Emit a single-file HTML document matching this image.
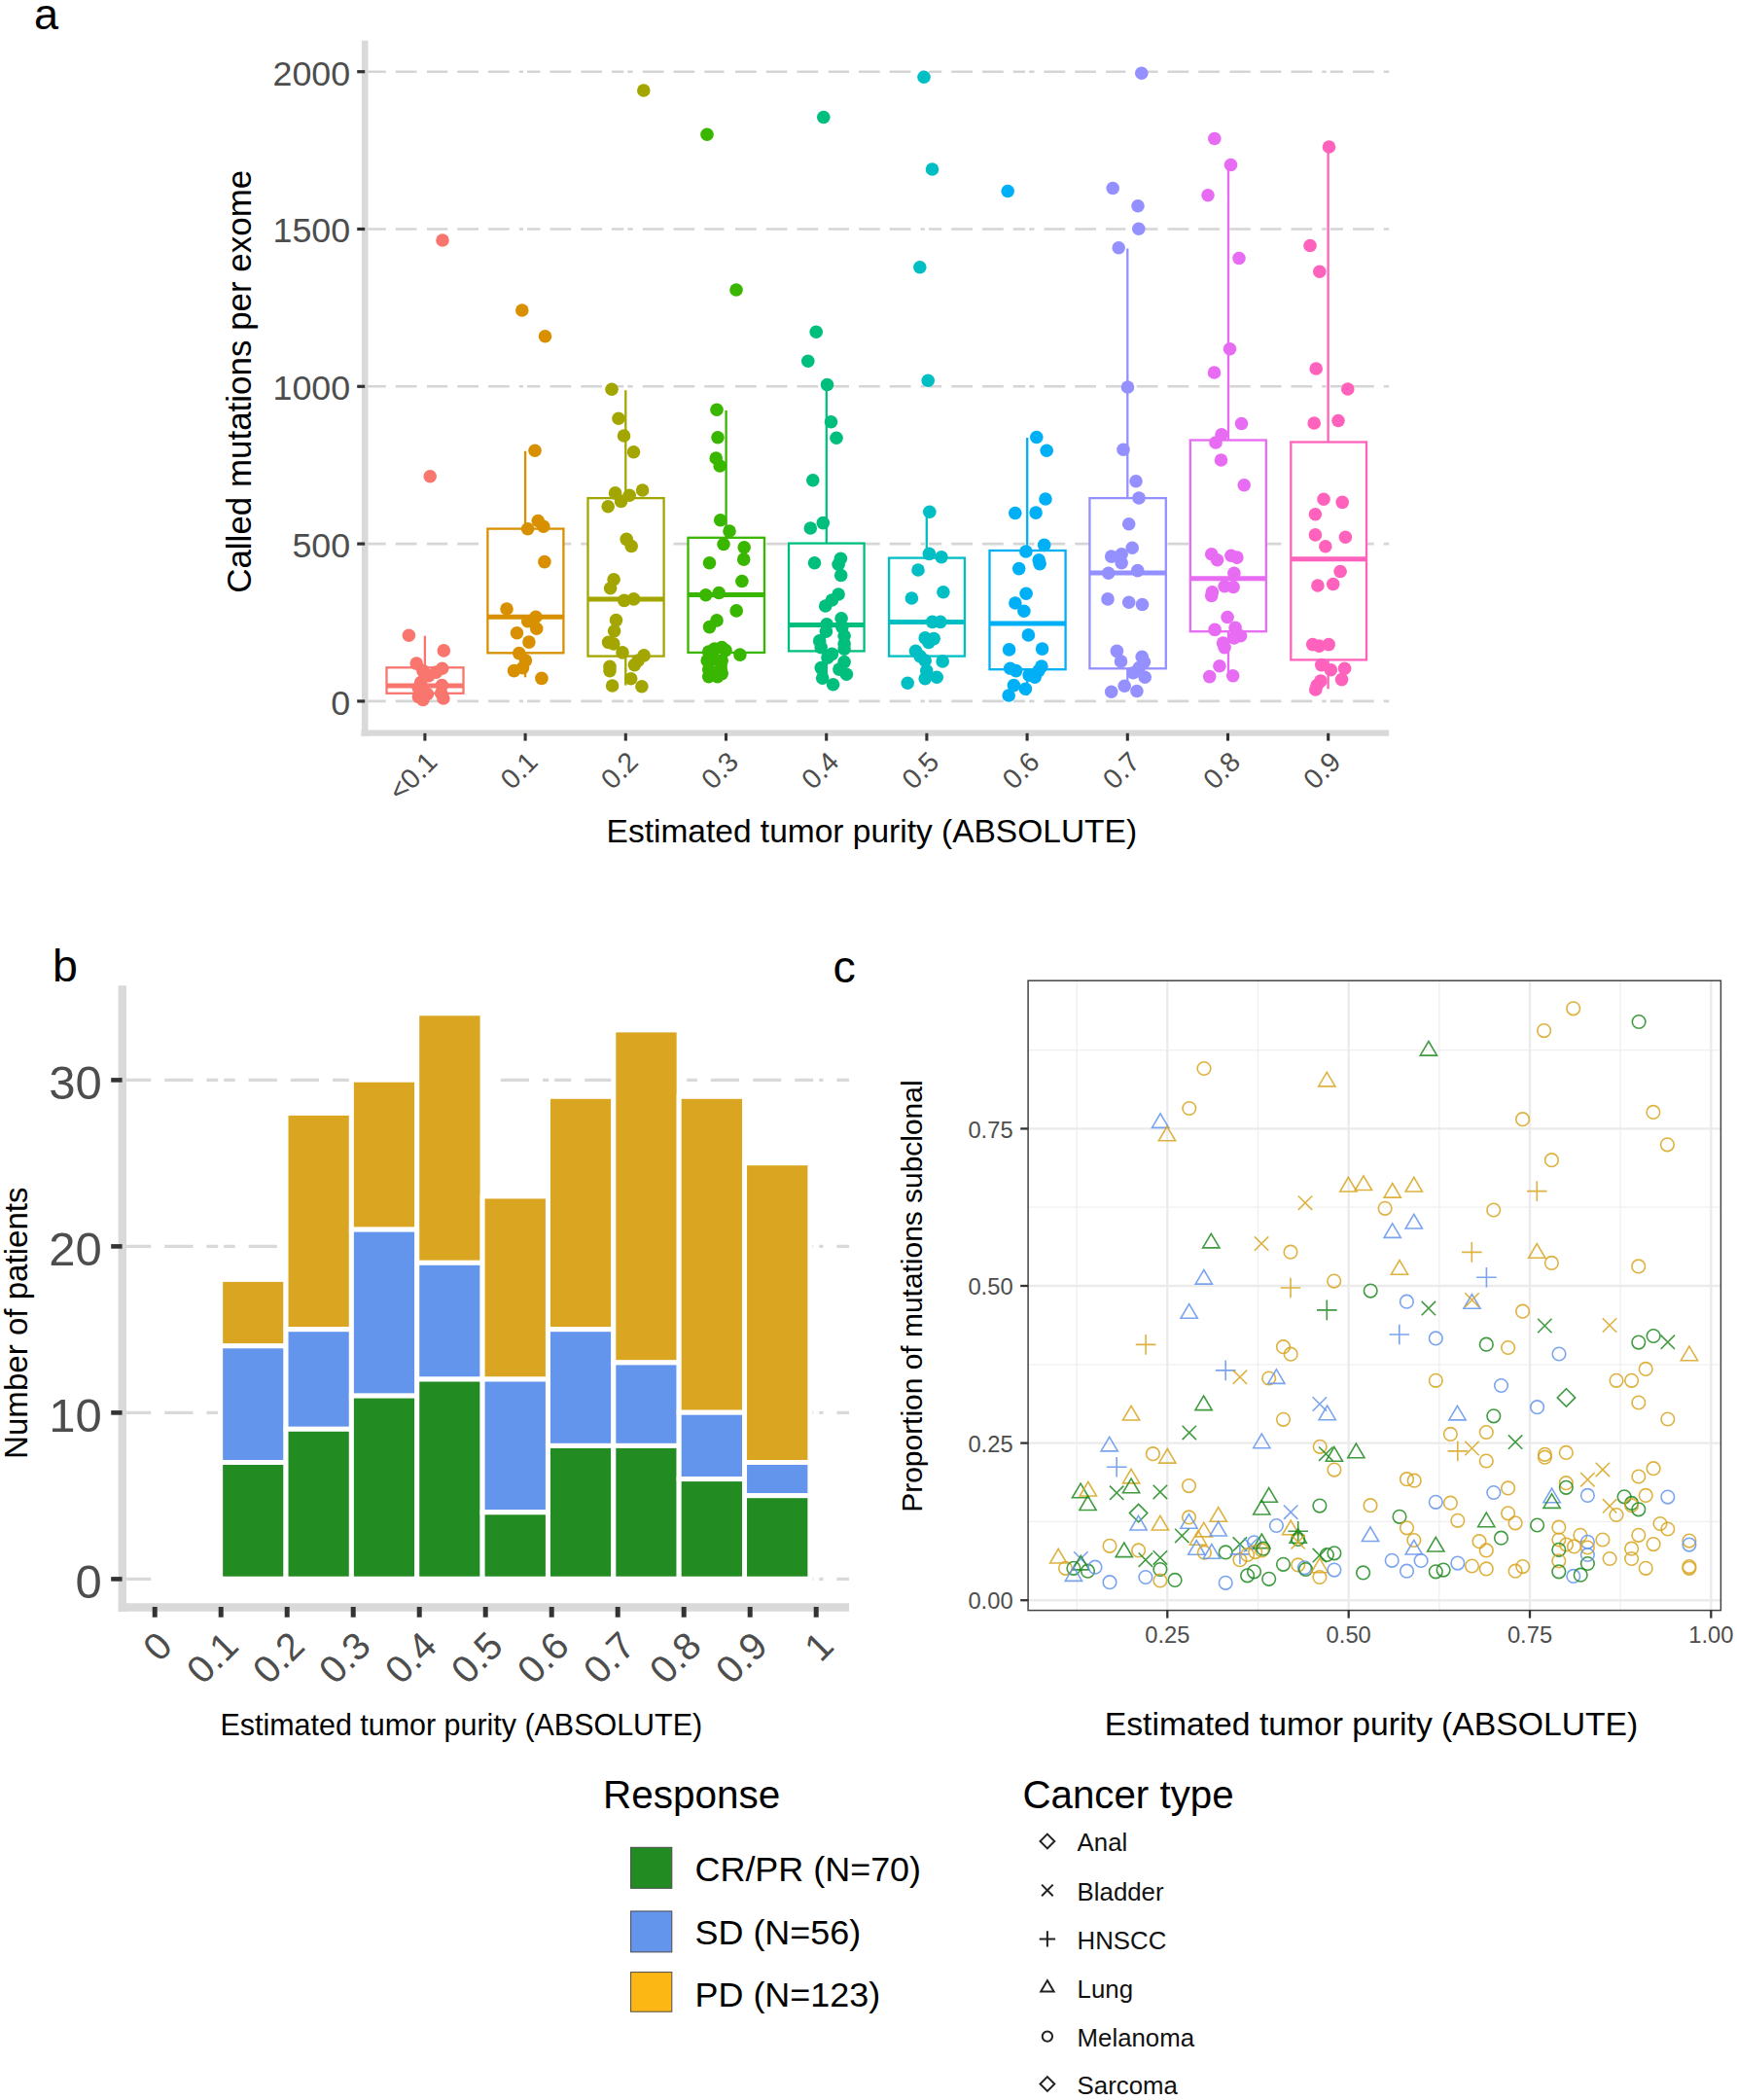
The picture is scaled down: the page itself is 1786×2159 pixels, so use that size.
<!DOCTYPE html>
<html lang="en"><head><meta charset="utf-8"><title>Figure</title>
<style>html,body{margin:0;padding:0;background:#fff}svg{display:block}</style></head>
<body><svg width="1786" height="2159" viewBox="0 0 1786 2159">
<rect width="1786" height="2159" fill="#fff"/>
<g id="panel-a">
<line x1="375.0" y1="720.9" x2="1428.2" y2="720.9" stroke="#d5d5d5" stroke-width="2.6" stroke-dasharray="21.75 10"/>
<line x1="375.0" y1="559.1" x2="1428.2" y2="559.1" stroke="#d5d5d5" stroke-width="2.6" stroke-dasharray="21.75 10"/>
<line x1="375.0" y1="397.3" x2="1428.2" y2="397.3" stroke="#d5d5d5" stroke-width="2.6" stroke-dasharray="21.75 10"/>
<line x1="375.0" y1="235.5" x2="1428.2" y2="235.5" stroke="#d5d5d5" stroke-width="2.6" stroke-dasharray="21.75 10"/>
<line x1="375.0" y1="73.7" x2="1428.2" y2="73.7" stroke="#d5d5d5" stroke-width="2.6" stroke-dasharray="21.75 10"/>
<line x1="436.9" y1="42" x2="436.9" y2="750" stroke="#fff" stroke-width="4"/>
<line x1="540.1" y1="42" x2="540.1" y2="750" stroke="#fff" stroke-width="4"/>
<line x1="643.3" y1="42" x2="643.3" y2="750" stroke="#fff" stroke-width="4"/>
<line x1="746.5" y1="42" x2="746.5" y2="750" stroke="#fff" stroke-width="4"/>
<line x1="849.7" y1="42" x2="849.7" y2="750" stroke="#fff" stroke-width="4"/>
<line x1="952.9" y1="42" x2="952.9" y2="750" stroke="#fff" stroke-width="4"/>
<line x1="1056.1" y1="42" x2="1056.1" y2="750" stroke="#fff" stroke-width="4"/>
<line x1="1159.3" y1="42" x2="1159.3" y2="750" stroke="#fff" stroke-width="4"/>
<line x1="1262.5" y1="42" x2="1262.5" y2="750" stroke="#fff" stroke-width="4"/>
<line x1="1365.7" y1="42" x2="1365.7" y2="750" stroke="#fff" stroke-width="4"/>
<line x1="375.2" y1="41.7" x2="375.2" y2="756.8" stroke="#d9d9d9" stroke-width="6.6"/>
<line x1="371.4" y1="753.7" x2="1428.2" y2="753.7" stroke="#d9d9d9" stroke-width="6.2"/>
<line x1="367.2" y1="720.9" x2="375.2" y2="720.9" stroke="#333" stroke-width="3.2"/>
<line x1="367.2" y1="559.1" x2="375.2" y2="559.1" stroke="#333" stroke-width="3.2"/>
<line x1="367.2" y1="397.3" x2="375.2" y2="397.3" stroke="#333" stroke-width="3.2"/>
<line x1="367.2" y1="235.5" x2="375.2" y2="235.5" stroke="#333" stroke-width="3.2"/>
<line x1="367.2" y1="73.7" x2="375.2" y2="73.7" stroke="#333" stroke-width="3.2"/>
<line x1="436.9" y1="753.8" x2="436.9" y2="761.6" stroke="#333" stroke-width="3.1"/>
<line x1="540.1" y1="753.8" x2="540.1" y2="761.6" stroke="#333" stroke-width="3.1"/>
<line x1="643.3" y1="753.8" x2="643.3" y2="761.6" stroke="#333" stroke-width="3.1"/>
<line x1="746.5" y1="753.8" x2="746.5" y2="761.6" stroke="#333" stroke-width="3.1"/>
<line x1="849.7" y1="753.8" x2="849.7" y2="761.6" stroke="#333" stroke-width="3.1"/>
<line x1="952.9" y1="753.8" x2="952.9" y2="761.6" stroke="#333" stroke-width="3.1"/>
<line x1="1056.1" y1="753.8" x2="1056.1" y2="761.6" stroke="#333" stroke-width="3.1"/>
<line x1="1159.3" y1="753.8" x2="1159.3" y2="761.6" stroke="#333" stroke-width="3.1"/>
<line x1="1262.5" y1="753.8" x2="1262.5" y2="761.6" stroke="#333" stroke-width="3.1"/>
<line x1="1365.7" y1="753.8" x2="1365.7" y2="761.6" stroke="#333" stroke-width="3.1"/>
<g stroke="#F8766D" fill="none">
<line x1="436.9" y1="653.7" x2="436.9" y2="686.3" stroke-width="2.3"/>
<line x1="436.9" y1="712.8" x2="436.9" y2="718.0" stroke-width="2.3"/>
<rect x="397.5" y="686.3" width="79.0" height="26.5" fill="#fff" stroke-width="2.3"/>
<line x1="397.5" y1="705.0" x2="476.5" y2="705.0" stroke-width="5"/>
</g>
<g stroke="#D89000" fill="none">
<line x1="540.1" y1="463.75" x2="540.1" y2="543.6" stroke-width="2.3"/>
<line x1="540.1" y1="671.3" x2="540.1" y2="696.3" stroke-width="2.3"/>
<rect x="501.4" y="543.6" width="78.0" height="127.7" fill="#fff" stroke-width="2.3"/>
<line x1="501.4" y1="634.2" x2="579.4" y2="634.2" stroke-width="5"/>
</g>
<g stroke="#A3A500" fill="none">
<line x1="643.3" y1="401.25" x2="643.3" y2="512.1" stroke-width="2.3"/>
<line x1="643.3" y1="674.6" x2="643.3" y2="704.6" stroke-width="2.3"/>
<rect x="604.5" y="512.1" width="78.1" height="162.5" fill="#fff" stroke-width="2.3"/>
<line x1="604.5" y1="616.0" x2="682.6" y2="616.0" stroke-width="5"/>
</g>
<g stroke="#39B600" fill="none">
<line x1="746.6" y1="422.0" x2="746.6" y2="552.8" stroke-width="2.3"/>
<line x1="746.6" y1="670.9" x2="746.6" y2="695.6" stroke-width="2.3"/>
<rect x="707.5" y="552.8" width="78.5" height="118.1" fill="#fff" stroke-width="2.3"/>
<line x1="707.5" y1="611.4" x2="786.0" y2="611.4" stroke-width="5"/>
</g>
<g stroke="#00BF7D" fill="none">
<line x1="849.8" y1="395.5" x2="849.8" y2="558.6" stroke-width="2.3"/>
<line x1="849.8" y1="669.4" x2="849.8" y2="701.6" stroke-width="2.3"/>
<rect x="811.0" y="558.6" width="77.6" height="110.8" fill="#fff" stroke-width="2.3"/>
<line x1="811.0" y1="642.4" x2="888.6" y2="642.4" stroke-width="5"/>
</g>
<g stroke="#00BFC4" fill="none">
<line x1="952.8" y1="526.0" x2="952.8" y2="573.6" stroke-width="2.3"/>
<line x1="952.8" y1="674.6" x2="952.8" y2="697.8" stroke-width="2.3"/>
<rect x="914.1" y="573.6" width="77.8" height="101.0" fill="#fff" stroke-width="2.3"/>
<line x1="914.1" y1="639.4" x2="991.9" y2="639.4" stroke-width="5"/>
</g>
<g stroke="#00B0F6" fill="none">
<line x1="1056.2" y1="450.0" x2="1056.2" y2="566.0" stroke-width="2.3"/>
<line x1="1056.2" y1="688.2" x2="1056.2" y2="715.0" stroke-width="2.3"/>
<rect x="1017.5" y="566.0" width="78.1" height="122.2" fill="#fff" stroke-width="2.3"/>
<line x1="1017.5" y1="640.9" x2="1095.6" y2="640.9" stroke-width="5"/>
</g>
<g stroke="#9590FF" fill="none">
<line x1="1159.3" y1="255.5" x2="1159.3" y2="512.1" stroke-width="2.3"/>
<line x1="1159.3" y1="687.3" x2="1159.3" y2="711.0" stroke-width="2.3"/>
<rect x="1120.4" y="512.1" width="78.4" height="175.2" fill="#fff" stroke-width="2.3"/>
<line x1="1120.4" y1="589.0" x2="1198.8" y2="589.0" stroke-width="5"/>
</g>
<g stroke="#E76BF3" fill="none">
<line x1="1263.0" y1="170.0" x2="1263.0" y2="452.5" stroke-width="2.3"/>
<line x1="1263.0" y1="649.2" x2="1263.0" y2="695.6" stroke-width="2.3"/>
<rect x="1223.8" y="452.5" width="78.0" height="196.7" fill="#fff" stroke-width="2.3"/>
<line x1="1223.8" y1="594.7" x2="1301.8" y2="594.7" stroke-width="5"/>
</g>
<g stroke="#FF62BC" fill="none">
<line x1="1365.6" y1="151.0" x2="1365.6" y2="454.5" stroke-width="2.3"/>
<line x1="1365.6" y1="678.4" x2="1365.6" y2="708.3" stroke-width="2.3"/>
<rect x="1327.3" y="454.5" width="77.7" height="223.9" fill="#fff" stroke-width="2.3"/>
<line x1="1327.3" y1="574.8" x2="1405.0" y2="574.8" stroke-width="5"/>
</g>
<g fill="#F8766D"><circle cx="455.0" cy="247.0" r="6.8"/><circle cx="442.2" cy="489.7" r="6.8"/><circle cx="420.4" cy="653.2" r="6.8"/><circle cx="456.3" cy="668.9" r="6.8"/><circle cx="428.2" cy="682.1" r="6.8"/><circle cx="454.7" cy="687.3" r="6.8"/><circle cx="448.4" cy="691.1" r="6.8"/><circle cx="440.9" cy="694.8" r="6.8"/><circle cx="434.9" cy="689.6" r="6.8"/><circle cx="432.7" cy="701.6" r="6.8"/><circle cx="430.4" cy="707.5" r="6.8"/><circle cx="434.9" cy="712.0" r="6.8"/><circle cx="454.4" cy="704.6" r="6.8"/><circle cx="453.6" cy="712.8" r="6.8"/><circle cx="455.9" cy="718.0" r="6.8"/><circle cx="430.4" cy="716.5" r="6.8"/><circle cx="434.9" cy="719.5" r="6.8"/><circle cx="439.4" cy="713.5" r="6.8"/></g>
<g fill="#D89000"><circle cx="536.8" cy="319.0" r="6.8"/><circle cx="560.5" cy="345.8" r="6.8"/><circle cx="550.0" cy="463.2" r="6.8"/><circle cx="553.2" cy="535.5" r="6.8"/><circle cx="558.8" cy="541.2" r="6.8"/><circle cx="542.6" cy="543.7" r="6.8"/><circle cx="559.9" cy="577.6" r="6.8"/><circle cx="521.0" cy="626.0" r="6.8"/><circle cx="550.9" cy="634.2" r="6.8"/><circle cx="542.7" cy="638.7" r="6.8"/><circle cx="551.7" cy="646.2" r="6.8"/><circle cx="531.5" cy="650.7" r="6.8"/><circle cx="543.9" cy="660.1" r="6.8"/><circle cx="533.7" cy="671.6" r="6.8"/><circle cx="540.4" cy="679.1" r="6.8"/><circle cx="537.5" cy="686.6" r="6.8"/><circle cx="528.5" cy="689.6" r="6.8"/><circle cx="556.9" cy="697.4" r="6.8"/></g>
<g fill="#A3A500"><circle cx="661.8" cy="93.0" r="6.8"/><circle cx="629.0" cy="400.2" r="6.8"/><circle cx="636.0" cy="430.2" r="6.8"/><circle cx="641.5" cy="448.0" r="6.8"/><circle cx="651.5" cy="464.8" r="6.8"/><circle cx="632.6" cy="506.9" r="6.8"/><circle cx="660.6" cy="504.0" r="6.8"/><circle cx="647.2" cy="509.2" r="6.8"/><circle cx="638.6" cy="515.4" r="6.8"/><circle cx="625.2" cy="520.7" r="6.8"/><circle cx="644.2" cy="554.4" r="6.8"/><circle cx="649.2" cy="561.5" r="6.8"/><circle cx="631.1" cy="595.7" r="6.8"/><circle cx="627.6" cy="604.7" r="6.8"/><circle cx="651.6" cy="615.9" r="6.8"/><circle cx="641.8" cy="617.4" r="6.8"/><circle cx="633.5" cy="637.6" r="6.8"/><circle cx="631.6" cy="648.8" r="6.8"/><circle cx="625.6" cy="660.4" r="6.8"/><circle cx="630.8" cy="661.9" r="6.8"/><circle cx="640.0" cy="670.9" r="6.8"/><circle cx="662.1" cy="673.9" r="6.8"/><circle cx="656.1" cy="679.1" r="6.8"/><circle cx="652.4" cy="683.6" r="6.8"/><circle cx="627.0" cy="685.4" r="6.8"/><circle cx="627.0" cy="689.6" r="6.8"/><circle cx="648.7" cy="697.8" r="6.8"/><circle cx="629.6" cy="705.0" r="6.8"/><circle cx="659.9" cy="705.7" r="6.8"/></g>
<g fill="#39B600"><circle cx="727.0" cy="138.2" r="6.8"/><circle cx="757.0" cy="298.0" r="6.8"/><circle cx="737.0" cy="421.2" r="6.8"/><circle cx="738.0" cy="449.8" r="6.8"/><circle cx="736.2" cy="471.0" r="6.8"/><circle cx="740.2" cy="479.0" r="6.8"/><circle cx="740.7" cy="534.8" r="6.8"/><circle cx="750.0" cy="546.0" r="6.8"/><circle cx="744.0" cy="559.5" r="6.8"/><circle cx="765.2" cy="562.8" r="6.8"/><circle cx="764.7" cy="575.1" r="6.8"/><circle cx="729.5" cy="578.8" r="6.8"/><circle cx="762.9" cy="597.5" r="6.8"/><circle cx="739.2" cy="609.5" r="6.8"/><circle cx="725.7" cy="611.7" r="6.8"/><circle cx="757.2" cy="627.9" r="6.8"/><circle cx="737.0" cy="637.9" r="6.8"/><circle cx="729.5" cy="644.6" r="6.8"/><circle cx="760.9" cy="673.1" r="6.8"/><circle cx="728.7" cy="670.1" r="6.8"/><circle cx="734.7" cy="667.1" r="6.8"/><circle cx="742.2" cy="665.6" r="6.8"/><circle cx="746.0" cy="668.6" r="6.8"/><circle cx="727.2" cy="679.1" r="6.8"/><circle cx="734.7" cy="677.6" r="6.8"/><circle cx="742.2" cy="679.1" r="6.8"/><circle cx="728.7" cy="688.1" r="6.8"/><circle cx="740.7" cy="688.1" r="6.8"/><circle cx="728.7" cy="695.6" r="6.8"/><circle cx="737.7" cy="695.6" r="6.8"/><circle cx="742.2" cy="692.6" r="6.8"/></g>
<g fill="#00BF7D"><circle cx="846.8" cy="120.5" r="6.8"/><circle cx="839.2" cy="341.2" r="6.8"/><circle cx="830.8" cy="371.2" r="6.8"/><circle cx="850.5" cy="395.5" r="6.8"/><circle cx="854.5" cy="433.8" r="6.8"/><circle cx="860.0" cy="450.2" r="6.8"/><circle cx="835.8" cy="493.7" r="6.8"/><circle cx="846.3" cy="537.6" r="6.8"/><circle cx="833.3" cy="543.0" r="6.8"/><circle cx="837.5" cy="578.8" r="6.8"/><circle cx="864.4" cy="574.3" r="6.8"/><circle cx="862.1" cy="580.3" r="6.8"/><circle cx="864.7" cy="591.5" r="6.8"/><circle cx="862.1" cy="611.0" r="6.8"/><circle cx="855.4" cy="617.0" r="6.8"/><circle cx="848.7" cy="623.0" r="6.8"/><circle cx="865.1" cy="635.7" r="6.8"/><circle cx="850.1" cy="641.7" r="6.8"/><circle cx="865.9" cy="644.7" r="6.8"/><circle cx="849.4" cy="649.2" r="6.8"/><circle cx="868.1" cy="653.7" r="6.8"/><circle cx="842.7" cy="658.9" r="6.8"/><circle cx="868.1" cy="661.9" r="6.8"/><circle cx="844.2" cy="665.6" r="6.8"/><circle cx="868.1" cy="667.1" r="6.8"/><circle cx="855.4" cy="672.4" r="6.8"/><circle cx="850.9" cy="676.1" r="6.8"/><circle cx="868.1" cy="680.6" r="6.8"/><circle cx="844.2" cy="686.6" r="6.8"/><circle cx="862.9" cy="688.1" r="6.8"/><circle cx="870.4" cy="693.3" r="6.8"/><circle cx="845.7" cy="697.1" r="6.8"/><circle cx="856.6" cy="703.8" r="6.8"/></g>
<g fill="#00BFC4"><circle cx="950.0" cy="79.2" r="6.8"/><circle cx="958.5" cy="174.0" r="6.8"/><circle cx="945.8" cy="274.8" r="6.8"/><circle cx="954.2" cy="391.2" r="6.8"/><circle cx="955.8" cy="526.2" r="6.8"/><circle cx="955.4" cy="569.4" r="6.8"/><circle cx="968.0" cy="572.8" r="6.8"/><circle cx="944.0" cy="586.0" r="6.8"/><circle cx="969.9" cy="608.7" r="6.8"/><circle cx="937.4" cy="615.0" r="6.8"/><circle cx="958.7" cy="639.4" r="6.8"/><circle cx="966.9" cy="639.4" r="6.8"/><circle cx="951.2" cy="655.9" r="6.8"/><circle cx="960.2" cy="656.6" r="6.8"/><circle cx="954.9" cy="660.4" r="6.8"/><circle cx="941.5" cy="669.4" r="6.8"/><circle cx="946.0" cy="674.6" r="6.8"/><circle cx="951.2" cy="679.1" r="6.8"/><circle cx="969.2" cy="679.9" r="6.8"/><circle cx="952.7" cy="689.6" r="6.8"/><circle cx="963.2" cy="696.3" r="6.8"/><circle cx="951.2" cy="697.8" r="6.8"/><circle cx="933.2" cy="702.3" r="6.8"/></g>
<g fill="#00B0F6"><circle cx="1036.2" cy="196.5" r="6.8"/><circle cx="1065.8" cy="449.5" r="6.8"/><circle cx="1076.2" cy="463.2" r="6.8"/><circle cx="1075.0" cy="513.0" r="6.8"/><circle cx="1043.8" cy="527.5" r="6.8"/><circle cx="1065.1" cy="527.1" r="6.8"/><circle cx="1073.7" cy="560.4" r="6.8"/><circle cx="1054.9" cy="567.0" r="6.8"/><circle cx="1068.2" cy="575.8" r="6.8"/><circle cx="1069.1" cy="579.6" r="6.8"/><circle cx="1047.7" cy="584.6" r="6.8"/><circle cx="1055.1" cy="610.2" r="6.8"/><circle cx="1043.9" cy="620.0" r="6.8"/><circle cx="1052.9" cy="628.2" r="6.8"/><circle cx="1057.4" cy="652.9" r="6.8"/><circle cx="1037.6" cy="667.9" r="6.8"/><circle cx="1071.6" cy="667.1" r="6.8"/><circle cx="1038.7" cy="687.3" r="6.8"/><circle cx="1044.7" cy="689.6" r="6.8"/><circle cx="1070.9" cy="685.1" r="6.8"/><circle cx="1067.9" cy="689.6" r="6.8"/><circle cx="1058.1" cy="694.1" r="6.8"/><circle cx="1064.1" cy="696.3" r="6.8"/><circle cx="1042.4" cy="704.6" r="6.8"/><circle cx="1054.4" cy="708.3" r="6.8"/><circle cx="1037.2" cy="715.0" r="6.8"/></g>
<g fill="#9590FF"><circle cx="1173.8" cy="75.2" r="6.8"/><circle cx="1144.2" cy="193.5" r="6.8"/><circle cx="1170.0" cy="211.8" r="6.8"/><circle cx="1170.8" cy="235.2" r="6.8"/><circle cx="1150.2" cy="254.8" r="6.8"/><circle cx="1159.5" cy="398.0" r="6.8"/><circle cx="1155.0" cy="462.2" r="6.8"/><circle cx="1168.0" cy="494.8" r="6.8"/><circle cx="1171.0" cy="512.0" r="6.8"/><circle cx="1160.7" cy="538.7" r="6.8"/><circle cx="1164.2" cy="563.2" r="6.8"/><circle cx="1142.7" cy="572.1" r="6.8"/><circle cx="1153.2" cy="569.8" r="6.8"/><circle cx="1153.2" cy="578.8" r="6.8"/><circle cx="1139.7" cy="589.3" r="6.8"/><circle cx="1169.7" cy="586.6" r="6.8"/><circle cx="1139.0" cy="615.9" r="6.8"/><circle cx="1160.7" cy="619.2" r="6.8"/><circle cx="1174.5" cy="621.5" r="6.8"/><circle cx="1148.4" cy="669.4" r="6.8"/><circle cx="1152.5" cy="679.9" r="6.8"/><circle cx="1174.2" cy="675.4" r="6.8"/><circle cx="1176.4" cy="680.6" r="6.8"/><circle cx="1171.2" cy="686.6" r="6.8"/><circle cx="1165.2" cy="691.8" r="6.8"/><circle cx="1177.2" cy="696.3" r="6.8"/><circle cx="1156.2" cy="705.3" r="6.8"/><circle cx="1168.9" cy="710.5" r="6.8"/><circle cx="1142.7" cy="711.3" r="6.8"/></g>
<g fill="#E76BF3"><circle cx="1248.8" cy="142.5" r="6.8"/><circle cx="1265.5" cy="169.5" r="6.8"/><circle cx="1242.0" cy="200.8" r="6.8"/><circle cx="1274.0" cy="265.5" r="6.8"/><circle cx="1264.5" cy="358.8" r="6.8"/><circle cx="1248.5" cy="383.0" r="6.8"/><circle cx="1276.5" cy="435.5" r="6.8"/><circle cx="1256.0" cy="446.8" r="6.8"/><circle cx="1250.0" cy="455.0" r="6.8"/><circle cx="1255.5" cy="473.0" r="6.8"/><circle cx="1279.2" cy="498.7" r="6.8"/><circle cx="1245.7" cy="569.8" r="6.8"/><circle cx="1251.6" cy="575.8" r="6.8"/><circle cx="1265.9" cy="571.3" r="6.8"/><circle cx="1271.9" cy="573.1" r="6.8"/><circle cx="1268.9" cy="589.3" r="6.8"/><circle cx="1259.1" cy="602.8" r="6.8"/><circle cx="1268.1" cy="603.5" r="6.8"/><circle cx="1246.4" cy="608.7" r="6.8"/><circle cx="1245.7" cy="612.5" r="6.8"/><circle cx="1262.1" cy="634.5" r="6.8"/><circle cx="1270.1" cy="645.4" r="6.8"/><circle cx="1249.1" cy="647.4" r="6.8"/><circle cx="1275.6" cy="653.7" r="6.8"/><circle cx="1268.9" cy="655.9" r="6.8"/><circle cx="1257.6" cy="661.1" r="6.8"/><circle cx="1259.1" cy="665.6" r="6.8"/><circle cx="1253.9" cy="684.8" r="6.8"/><circle cx="1243.7" cy="695.6" r="6.8"/><circle cx="1267.7" cy="694.8" r="6.8"/></g>
<g fill="#FF62BC"><circle cx="1366.5" cy="151.0" r="6.8"/><circle cx="1347.0" cy="252.5" r="6.8"/><circle cx="1356.8" cy="279.2" r="6.8"/><circle cx="1353.2" cy="379.0" r="6.8"/><circle cx="1385.8" cy="400.0" r="6.8"/><circle cx="1351.2" cy="435.0" r="6.8"/><circle cx="1376.0" cy="432.5" r="6.8"/><circle cx="1361.0" cy="513.2" r="6.8"/><circle cx="1380.2" cy="516.4" r="6.8"/><circle cx="1352.4" cy="528.7" r="6.8"/><circle cx="1352.4" cy="549.9" r="6.8"/><circle cx="1383.4" cy="552.2" r="6.8"/><circle cx="1362.8" cy="561.7" r="6.8"/><circle cx="1378.1" cy="587.5" r="6.8"/><circle cx="1370.7" cy="600.5" r="6.8"/><circle cx="1354.9" cy="602.0" r="6.8"/><circle cx="1349.7" cy="662.6" r="6.8"/><circle cx="1356.4" cy="664.1" r="6.8"/><circle cx="1366.2" cy="662.6" r="6.8"/><circle cx="1358.7" cy="683.6" r="6.8"/><circle cx="1368.4" cy="688.8" r="6.8"/><circle cx="1382.6" cy="687.3" r="6.8"/><circle cx="1379.6" cy="698.6" r="6.8"/><circle cx="1357.9" cy="700.1" r="6.8"/><circle cx="1354.2" cy="704.6" r="6.8"/><circle cx="1352.7" cy="709.0" r="6.8"/></g>
<g font-family="Liberation Sans, Arial, Helvetica, sans-serif" font-size="35.8" fill="#4d4d4d" text-anchor="end">
<text x="360.2" y="734.8">0</text>
<text x="360.2" y="573.0">500</text>
<text x="360.2" y="411.2">1000</text>
<text x="360.2" y="249.4">1500</text>
<text x="360.2" y="87.6">2000</text>
</g>
<g font-family="Liberation Sans, Arial, Helvetica, sans-serif" font-size="28.5" fill="#4d4d4d" text-anchor="end">
<text transform="translate(436.9,770.6) rotate(-45)" x="0" y="20.4">&lt;0.1</text>
<text transform="translate(540.1,770.6) rotate(-45)" x="0" y="20.4">0.1</text>
<text transform="translate(643.3,770.6) rotate(-45)" x="0" y="20.4">0.2</text>
<text transform="translate(746.5,770.6) rotate(-45)" x="0" y="20.4">0.3</text>
<text transform="translate(849.7,770.6) rotate(-45)" x="0" y="20.4">0.4</text>
<text transform="translate(952.9,770.6) rotate(-45)" x="0" y="20.4">0.5</text>
<text transform="translate(1056.1,770.6) rotate(-45)" x="0" y="20.4">0.6</text>
<text transform="translate(1159.3,770.6) rotate(-45)" x="0" y="20.4">0.7</text>
<text transform="translate(1262.5,770.6) rotate(-45)" x="0" y="20.4">0.8</text>
<text transform="translate(1365.7,770.6) rotate(-45)" x="0" y="20.4">0.9</text>
</g>
<text font-family="Liberation Sans, Arial, Helvetica, sans-serif" font-size="34.95" fill="#000" text-anchor="middle" transform="translate(258.3,392.3) rotate(-90)">Called mutations per exome</text>
<text font-family="Liberation Sans, Arial, Helvetica, sans-serif" font-size="33.5" fill="#000" x="623.6" y="866">Estimated tumor purity (ABSOLUTE)</text>
</g>
<g id="panel-b">
<line x1="126" y1="1623.4" x2="873" y2="1623.4" stroke="#d9d9d9" stroke-width="3.3" stroke-dasharray="29.3 13.9"/>
<line x1="126" y1="1452.4" x2="873" y2="1452.4" stroke="#d9d9d9" stroke-width="3.3" stroke-dasharray="29.3 13.9"/>
<line x1="126" y1="1281.4" x2="873" y2="1281.4" stroke="#d9d9d9" stroke-width="3.3" stroke-dasharray="29.3 13.9"/>
<line x1="126" y1="1110.4" x2="873" y2="1110.4" stroke="#d9d9d9" stroke-width="3.3" stroke-dasharray="29.3 13.9"/>
<line x1="159.2" y1="1014" x2="159.2" y2="1646" stroke="#fff" stroke-width="6"/>
<line x1="227.2" y1="1014" x2="227.2" y2="1646" stroke="#fff" stroke-width="6"/>
<line x1="295.2" y1="1014" x2="295.2" y2="1646" stroke="#fff" stroke-width="6"/>
<line x1="363.2" y1="1014" x2="363.2" y2="1646" stroke="#fff" stroke-width="6"/>
<line x1="431.2" y1="1014" x2="431.2" y2="1646" stroke="#fff" stroke-width="6"/>
<line x1="499.2" y1="1014" x2="499.2" y2="1646" stroke="#fff" stroke-width="6"/>
<line x1="567.2" y1="1014" x2="567.2" y2="1646" stroke="#fff" stroke-width="6"/>
<line x1="635.2" y1="1014" x2="635.2" y2="1646" stroke="#fff" stroke-width="6"/>
<line x1="703.2" y1="1014" x2="703.2" y2="1646" stroke="#fff" stroke-width="6"/>
<line x1="771.2" y1="1014" x2="771.2" y2="1646" stroke="#fff" stroke-width="6"/>
<line x1="839.2" y1="1014" x2="839.2" y2="1646" stroke="#fff" stroke-width="6"/>
<line x1="156.8" y1="1623.2" x2="229" y2="1623.2" stroke="#fff" stroke-width="5.2"/>
<g stroke="#fff" stroke-width="5" stroke-linejoin="miter">
<rect x="226.65" y="1315.4" width="67.36" height="68.4" fill="#DAA520"/>
<rect x="226.65" y="1383.8" width="67.36" height="119.7" fill="#6495ED"/>
<rect x="226.65" y="1503.5" width="67.36" height="119.7" fill="#228B22"/>
<rect x="294.01" y="1144.4" width="67.36" height="222.3" fill="#DAA520"/>
<rect x="294.01" y="1366.7" width="67.36" height="102.6" fill="#6495ED"/>
<rect x="294.01" y="1469.3" width="67.36" height="153.9" fill="#228B22"/>
<rect x="361.37" y="1110.2" width="67.36" height="153.9" fill="#DAA520"/>
<rect x="361.37" y="1264.1" width="67.36" height="171.0" fill="#6495ED"/>
<rect x="361.37" y="1435.1" width="67.36" height="188.1" fill="#228B22"/>
<rect x="428.73" y="1041.8" width="67.36" height="256.5" fill="#DAA520"/>
<rect x="428.73" y="1298.3" width="67.36" height="119.7" fill="#6495ED"/>
<rect x="428.73" y="1418.0" width="67.36" height="205.2" fill="#228B22"/>
<rect x="496.09" y="1229.9" width="67.36" height="188.1" fill="#DAA520"/>
<rect x="496.09" y="1418.0" width="67.36" height="136.8" fill="#6495ED"/>
<rect x="496.09" y="1554.8" width="67.36" height="68.4" fill="#228B22"/>
<rect x="563.45" y="1127.3" width="67.36" height="239.4" fill="#DAA520"/>
<rect x="563.45" y="1366.7" width="67.36" height="119.7" fill="#6495ED"/>
<rect x="563.45" y="1486.4" width="67.36" height="136.8" fill="#228B22"/>
<rect x="630.81" y="1058.9" width="67.36" height="342.0" fill="#DAA520"/>
<rect x="630.81" y="1400.9" width="67.36" height="85.5" fill="#6495ED"/>
<rect x="630.81" y="1486.4" width="67.36" height="136.8" fill="#228B22"/>
<rect x="698.17" y="1127.3" width="67.36" height="324.9" fill="#DAA520"/>
<rect x="698.17" y="1452.2" width="67.36" height="68.4" fill="#6495ED"/>
<rect x="698.17" y="1520.6" width="67.36" height="102.6" fill="#228B22"/>
<rect x="765.53" y="1195.7" width="67.36" height="307.8" fill="#DAA520"/>
<rect x="765.53" y="1503.5" width="67.36" height="34.2" fill="#6495ED"/>
<rect x="765.53" y="1537.7" width="67.36" height="85.5" fill="#228B22"/>
</g>
<line x1="125.8" y1="1013.3" x2="125.8" y2="1656.9" stroke="#d9d9d9" stroke-width="8.4"/>
<line x1="121.9" y1="1652.5" x2="873.1" y2="1652.5" stroke="#d9d9d9" stroke-width="8.7"/>
<line x1="114.2" y1="1623.4" x2="125.6" y2="1623.4" stroke="#333" stroke-width="4.6"/>
<line x1="114.2" y1="1452.4" x2="125.6" y2="1452.4" stroke="#333" stroke-width="4.6"/>
<line x1="114.2" y1="1281.4" x2="125.6" y2="1281.4" stroke="#333" stroke-width="4.6"/>
<line x1="114.2" y1="1110.4" x2="125.6" y2="1110.4" stroke="#333" stroke-width="4.6"/>
<line x1="159.2" y1="1652" x2="159.2" y2="1662.7" stroke="#333" stroke-width="5"/>
<line x1="227.2" y1="1652" x2="227.2" y2="1662.7" stroke="#333" stroke-width="5"/>
<line x1="295.2" y1="1652" x2="295.2" y2="1662.7" stroke="#333" stroke-width="5"/>
<line x1="363.2" y1="1652" x2="363.2" y2="1662.7" stroke="#333" stroke-width="5"/>
<line x1="431.2" y1="1652" x2="431.2" y2="1662.7" stroke="#333" stroke-width="5"/>
<line x1="499.2" y1="1652" x2="499.2" y2="1662.7" stroke="#333" stroke-width="5"/>
<line x1="567.2" y1="1652" x2="567.2" y2="1662.7" stroke="#333" stroke-width="5"/>
<line x1="635.2" y1="1652" x2="635.2" y2="1662.7" stroke="#333" stroke-width="5"/>
<line x1="703.2" y1="1652" x2="703.2" y2="1662.7" stroke="#333" stroke-width="5"/>
<line x1="771.2" y1="1652" x2="771.2" y2="1662.7" stroke="#333" stroke-width="5"/>
<line x1="839.2" y1="1652" x2="839.2" y2="1662.7" stroke="#333" stroke-width="5"/>
<g font-family="Liberation Sans, Arial, Helvetica, sans-serif" font-size="49" fill="#4d4d4d" text-anchor="end">
<text x="104.7" y="1642.6">0</text>
<text x="104.7" y="1471.6">10</text>
<text x="104.7" y="1300.6">20</text>
<text x="104.7" y="1129.6">30</text>
</g>
<g font-family="Liberation Sans, Arial, Helvetica, sans-serif" font-size="39.5" fill="#4d4d4d" text-anchor="end">
<text transform="translate(159.2,1674.4) rotate(-45)" x="0" y="28.3">0</text>
<text transform="translate(227.2,1674.4) rotate(-45)" x="0" y="28.3">0.1</text>
<text transform="translate(295.2,1674.4) rotate(-45)" x="0" y="28.3">0.2</text>
<text transform="translate(363.2,1674.4) rotate(-45)" x="0" y="28.3">0.3</text>
<text transform="translate(431.2,1674.4) rotate(-45)" x="0" y="28.3">0.4</text>
<text transform="translate(499.2,1674.4) rotate(-45)" x="0" y="28.3">0.5</text>
<text transform="translate(567.2,1674.4) rotate(-45)" x="0" y="28.3">0.6</text>
<text transform="translate(635.2,1674.4) rotate(-45)" x="0" y="28.3">0.7</text>
<text transform="translate(703.2,1674.4) rotate(-45)" x="0" y="28.3">0.8</text>
<text transform="translate(771.2,1674.4) rotate(-45)" x="0" y="28.3">0.9</text>
<text transform="translate(839.2,1674.4) rotate(-45)" x="0" y="28.3">1</text>
</g>
<text font-family="Liberation Sans, Arial, Helvetica, sans-serif" font-size="33.1" fill="#000" text-anchor="middle" transform="translate(27.9,1360.2) rotate(-90)">Number of patients</text>
<text font-family="Liberation Sans, Arial, Helvetica, sans-serif" font-size="30.45" fill="#000" x="226.5" y="1783.5">Estimated tumor purity (ABSOLUTE)</text>
</g>
<g id="panel-c">
<rect x="1057.1" y="1008.2" width="712.3" height="647.4" fill="#fff"/>
<line x1="1107.2" y1="1008.2" x2="1107.2" y2="1655.6" stroke="#efefef" stroke-width="1.3"/>
<line x1="1057.1" y1="1564.4" x2="1769.4" y2="1564.4" stroke="#efefef" stroke-width="1.3"/>
<line x1="1293.5" y1="1008.2" x2="1293.5" y2="1655.6" stroke="#efefef" stroke-width="1.3"/>
<line x1="1057.1" y1="1402.8" x2="1769.4" y2="1402.8" stroke="#efefef" stroke-width="1.3"/>
<line x1="1479.8" y1="1008.2" x2="1479.8" y2="1655.6" stroke="#efefef" stroke-width="1.3"/>
<line x1="1057.1" y1="1241.2" x2="1769.4" y2="1241.2" stroke="#efefef" stroke-width="1.3"/>
<line x1="1666.1" y1="1008.2" x2="1666.1" y2="1655.6" stroke="#efefef" stroke-width="1.3"/>
<line x1="1057.1" y1="1079.6" x2="1769.4" y2="1079.6" stroke="#efefef" stroke-width="1.3"/>
<line x1="1200.3" y1="1008.2" x2="1200.3" y2="1655.6" stroke="#ebebeb" stroke-width="2.4"/>
<line x1="1386.7" y1="1008.2" x2="1386.7" y2="1655.6" stroke="#ebebeb" stroke-width="2.4"/>
<line x1="1573.0" y1="1008.2" x2="1573.0" y2="1655.6" stroke="#ebebeb" stroke-width="2.4"/>
<line x1="1759.3" y1="1008.2" x2="1759.3" y2="1655.6" stroke="#ebebeb" stroke-width="2.4"/>
<line x1="1057.1" y1="1645.2" x2="1769.4" y2="1645.2" stroke="#ebebeb" stroke-width="2.4"/>
<line x1="1057.1" y1="1483.6" x2="1769.4" y2="1483.6" stroke="#ebebeb" stroke-width="2.4"/>
<line x1="1057.1" y1="1322.0" x2="1769.4" y2="1322.0" stroke="#ebebeb" stroke-width="2.4"/>
<line x1="1057.1" y1="1160.4" x2="1769.4" y2="1160.4" stroke="#ebebeb" stroke-width="2.4"/>
<g fill="none" stroke-width="1.6" stroke-opacity="0.86">
<g stroke="#D9A521"><circle cx="1238.0" cy="1098.5" r="6.80"/></g>
<g stroke="#D9A521"><circle cx="1222.8" cy="1139.5" r="6.80"/></g>
<g stroke="#6495ED"><path d="M1193.1 1144.8L1201.7 1159.4L1184.5 1159.4Z"/></g>
<g stroke="#D9A521"><path d="M1200.0 1158.2L1208.6 1172.8L1191.4 1172.8Z"/></g>
<g stroke="#D9A521"><path d="M1334.8 1229.5L1349.2 1243.9M1334.8 1243.9L1349.2 1229.5"/></g>
<g stroke="#228B22"><path d="M1245.3 1268.3L1253.9 1282.9L1236.7 1282.9Z"/></g>
<g stroke="#D9A521"><path d="M1289.9 1271.4L1304.3 1285.8M1289.9 1285.8L1304.3 1271.4"/></g>
<g stroke="#D9A521"><circle cx="1327.0" cy="1287.2" r="6.80"/></g>
<g stroke="#6495ED"><path d="M1237.8 1305.5L1246.4 1320.1L1229.2 1320.1Z"/></g>
<g stroke="#D9A521"><path d="M1316.7 1324.0L1337.3 1324.0M1327.0 1313.7L1327.0 1334.3"/></g>
<g stroke="#6495ED"><path d="M1222.7 1340.7L1231.3 1355.3L1214.1 1355.3Z"/></g>
<g stroke="#228B22"><path d="M1468.9 1070.5L1477.5 1085.1L1460.3 1085.1Z"/></g>
<g stroke="#D9A521"><path d="M1364.3 1102.3L1372.9 1116.9L1355.7 1116.9Z"/></g>
<g stroke="#D9A521"><circle cx="1587.6" cy="1059.6" r="6.80"/></g>
<g stroke="#D9A521"><circle cx="1565.6" cy="1150.7" r="6.80"/></g>
<g stroke="#D9A521"><circle cx="1595.4" cy="1192.7" r="6.80"/></g>
<g stroke="#D9A521"><path d="M1386.4 1210.4L1395.0 1225.0L1377.8 1225.0Z"/></g>
<g stroke="#D9A521"><path d="M1402.0 1208.9L1410.6 1223.5L1393.4 1223.5Z"/></g>
<g stroke="#D9A521"><path d="M1431.7 1216.5L1440.3 1231.1L1423.1 1231.1Z"/></g>
<g stroke="#D9A521"><path d="M1453.8 1210.4L1462.4 1225.0L1445.2 1225.0Z"/></g>
<g stroke="#D9A521"><circle cx="1424.1" cy="1242.3" r="6.80"/></g>
<g stroke="#D9A521"><circle cx="1535.7" cy="1244.0" r="6.80"/></g>
<g stroke="#D9A521"><path d="M1570.0 1224.6L1590.6 1224.6M1580.3 1214.3L1580.3 1234.9"/></g>
<g stroke="#6495ED"><path d="M1453.8 1248.4L1462.4 1263.0L1445.2 1263.0Z"/></g>
<g stroke="#6495ED"><path d="M1431.7 1257.8L1440.3 1272.4L1423.1 1272.4Z"/></g>
<g stroke="#D9A521"><path d="M1503.0 1287.4L1523.6 1287.4M1513.3 1277.1L1513.3 1297.7"/></g>
<g stroke="#D9A521"><path d="M1580.3 1278.7L1588.9 1293.3L1571.7 1293.3Z"/></g>
<g stroke="#D9A521"><path d="M1439.0 1295.6L1447.6 1310.2L1430.4 1310.2Z"/></g>
<g stroke="#D9A521"><circle cx="1595.4" cy="1298.4" r="6.80"/></g>
<g stroke="#6495ED"><path d="M1518.1 1313.3L1538.7 1313.3M1528.4 1303.0L1528.4 1323.6"/></g>
<g stroke="#D9A521"><circle cx="1371.7" cy="1317.1" r="6.80"/></g>
<g stroke="#228B22"><circle cx="1409.2" cy="1327.1" r="6.80"/></g>
<g stroke="#6495ED"><circle cx="1446.4" cy="1338.2" r="6.80"/></g>
<g stroke="#228B22"><path d="M1354.0 1346.9L1374.6 1346.9M1364.3 1336.6L1364.3 1357.2"/></g>
<g stroke="#228B22"><path d="M1461.7 1337.9L1476.1 1352.3M1461.7 1352.3L1476.1 1337.9"/></g>
<g stroke="#6495ED"><path d="M1513.5 1330.7L1522.1 1345.3L1504.9 1345.3Z"/></g>
<g stroke="#D9A521"><path d="M1506.3 1329.3L1520.7 1343.7M1506.3 1343.7L1520.7 1329.3"/></g>
<g stroke="#D9A521"><circle cx="1565.6" cy="1348.2" r="6.80"/></g>
<g stroke="#228B22"><path d="M1581.1 1355.8L1595.5 1370.2M1581.1 1370.2L1595.5 1355.8"/></g>
<g stroke="#D9A521"><circle cx="1617.7" cy="1036.8" r="6.80"/></g>
<g stroke="#228B22"><circle cx="1685.1" cy="1050.5" r="6.80"/></g>
<g stroke="#D9A521"><circle cx="1699.9" cy="1143.4" r="6.80"/></g>
<g stroke="#D9A521"><circle cx="1714.4" cy="1176.8" r="6.80"/></g>
<g stroke="#D9A521"><circle cx="1684.7" cy="1301.9" r="6.80"/></g>
<g stroke="#D9A521"><path d="M1647.8 1355.3L1662.2 1369.7M1647.8 1369.7L1662.2 1355.3"/></g>
<g stroke="#D9A521"><path d="M1167.8 1382.4L1188.4 1382.4M1178.1 1372.1L1178.1 1392.7"/></g>
<g stroke="#228B22"><path d="M1237.6 1435.0L1246.2 1449.6L1229.0 1449.6Z"/></g>
<g stroke="#D9A521"><path d="M1163.1 1445.4L1171.7 1460.0L1154.5 1460.0Z"/></g>
<g stroke="#228B22"><path d="M1215.6 1465.7L1230.0 1480.1M1215.6 1480.1L1230.0 1465.7"/></g>
<g stroke="#6495ED"><path d="M1140.7 1477.3L1149.3 1491.9L1132.1 1491.9Z"/></g>
<g stroke="#D9A521"><circle cx="1185.4" cy="1494.7" r="6.80"/></g>
<g stroke="#D9A521"><path d="M1200.3 1489.5L1208.9 1504.1L1191.7 1504.1Z"/></g>
<g stroke="#6495ED"><path d="M1137.9 1508.3L1158.5 1508.3M1148.2 1498.0L1148.2 1518.6"/></g>
<g stroke="#D9A521"><path d="M1163.1 1510.3L1171.7 1524.9L1154.5 1524.9Z"/></g>
<g stroke="#228B22"><path d="M1163.1 1520.2L1171.7 1534.8L1154.5 1534.8Z"/></g>
<g stroke="#228B22"><path d="M1111.1 1525.2L1119.7 1539.8L1102.5 1539.8Z"/></g>
<g stroke="#D9A521"><path d="M1118.8 1523.4L1127.4 1538.0L1110.2 1538.0Z"/></g>
<g stroke="#228B22"><path d="M1141.0 1527.6L1155.4 1542.0M1141.0 1542.0L1155.4 1527.6"/></g>
<g stroke="#228B22"><path d="M1185.7 1526.7L1200.1 1541.1M1185.7 1541.1L1200.1 1526.7"/></g>
<g stroke="#D9A521"><circle cx="1222.5" cy="1527.6" r="6.80"/></g>
<g stroke="#228B22"><path d="M1118.5 1537.9L1127.1 1552.5L1109.9 1552.5Z"/></g>
<g stroke="#228B22"><path d="M1170.6 1546.4L1179.8 1555.6L1170.6 1564.8L1161.4 1555.6Z"/></g>
<g stroke="#6495ED"><path d="M1170.6 1558.4L1179.2 1573.0L1162.0 1573.0Z"/></g>
<g stroke="#D9A521"><path d="M1192.9 1558.4L1201.5 1573.0L1184.3 1573.0Z"/></g>
<g stroke="#D9A521"><circle cx="1222.5" cy="1559.9" r="6.80"/></g>
<g stroke="#6495ED"><path d="M1222.5 1556.6L1231.1 1571.2L1213.9 1571.2Z"/></g>
<g stroke="#228B22"><path d="M1208.1 1571.7L1222.5 1586.1M1208.1 1586.1L1222.5 1571.7"/></g>
<g stroke="#D9A521"><path d="M1237.8 1565.3L1246.4 1579.9L1229.2 1579.9Z"/></g>
<g stroke="#D9A521"><path d="M1232.0 1573.6L1240.6 1588.2L1223.4 1588.2Z"/></g>
<g stroke="#6495ED"><path d="M1230.3 1583.7L1238.9 1598.3L1221.7 1598.3Z"/></g>
<g stroke="#D9A521"><circle cx="1238.4" cy="1596.2" r="6.80"/></g>
<g stroke="#6495ED"><path d="M1245.9 1587.7L1254.5 1602.3L1237.3 1602.3Z"/></g>
<g stroke="#D9A521"><circle cx="1141.0" cy="1589.3" r="6.80"/></g>
<g stroke="#228B22"><path d="M1155.8 1586.0L1164.4 1600.6L1147.2 1600.6Z"/></g>
<g stroke="#D9A521"><circle cx="1170.6" cy="1593.9" r="6.80"/></g>
<g stroke="#228B22"><path d="M1170.7 1596.5L1185.1 1610.9M1170.7 1610.9L1185.1 1596.5"/></g>
<g stroke="#228B22"><path d="M1185.7 1594.2L1200.1 1608.6M1185.7 1608.6L1200.1 1594.2"/></g>
<g stroke="#D9A521"><path d="M1088.2 1592.4L1096.8 1607.0L1079.6 1607.0Z"/></g>
<g stroke="#6495ED"><path d="M1104.1 1595.3L1118.5 1609.7M1104.1 1609.7L1118.5 1595.3"/></g>
<g stroke="#228B22"><path d="M1111.3 1599.3L1119.9 1613.9L1102.7 1613.9Z"/></g>
<g stroke="#D9A521"><circle cx="1095.5" cy="1612.3" r="6.80"/></g>
<g stroke="#228B22"><circle cx="1103.9" cy="1612.3" r="6.80"/></g>
<g stroke="#228B22"><circle cx="1118.5" cy="1615.2" r="6.80"/></g>
<g stroke="#6495ED"><circle cx="1126.0" cy="1611.2" r="6.80"/></g>
<g stroke="#6495ED"><path d="M1103.9 1610.8L1112.5 1625.4L1095.3 1625.4Z"/></g>
<g stroke="#228B22"><circle cx="1192.9" cy="1613.5" r="6.80"/></g>
<g stroke="#6495ED"><circle cx="1177.9" cy="1621.5" r="6.80"/></g>
<g stroke="#D9A521"><circle cx="1192.9" cy="1625.0" r="6.80"/></g>
<g stroke="#228B22"><circle cx="1208.1" cy="1624.4" r="6.80"/></g>
<g stroke="#6495ED"><circle cx="1141.0" cy="1626.7" r="6.80"/></g>
<g stroke="#6495ED"><path d="M1428.5 1372.0L1449.1 1372.0M1438.8 1361.7L1438.8 1382.3"/></g>
<g stroke="#D9A521"><circle cx="1319.5" cy="1384.7" r="6.80"/></g>
<g stroke="#D9A521"><circle cx="1327.2" cy="1392.2" r="6.80"/></g>
<g stroke="#6495ED"><path d="M1249.9 1408.9L1270.5 1408.9M1260.2 1398.6L1260.2 1419.2"/></g>
<g stroke="#D9A521"><path d="M1267.7 1408.6L1282.1 1423.0M1267.7 1423.0L1282.1 1408.6"/></g>
<g stroke="#D9A521"><circle cx="1304.7" cy="1417.0" r="6.80"/></g>
<g stroke="#6495ED"><path d="M1312.4 1407.8L1321.0 1422.4L1303.8 1422.4Z"/></g>
<g stroke="#6495ED"><path d="M1349.7 1436.3L1364.1 1450.7M1349.7 1450.7L1364.1 1436.3"/></g>
<g stroke="#6495ED"><path d="M1364.7 1445.1L1373.3 1459.7L1356.1 1459.7Z"/></g>
<g stroke="#D9A521"><circle cx="1319.5" cy="1459.3" r="6.80"/></g>
<g stroke="#6495ED"><path d="M1297.3 1474.1L1305.9 1488.7L1288.7 1488.7Z"/></g>
<g stroke="#D9A521"><circle cx="1357.2" cy="1487.3" r="6.80"/></g>
<g stroke="#228B22"><path d="M1356.1 1487.5L1370.5 1501.9M1356.1 1501.9L1370.5 1487.5"/></g>
<g stroke="#228B22"><path d="M1371.9 1487.7L1380.5 1502.3L1363.3 1502.3Z"/></g>
<g stroke="#228B22"><path d="M1394.4 1484.2L1403.0 1498.8L1385.8 1498.8Z"/></g>
<g stroke="#D9A521"><circle cx="1371.9" cy="1511.1" r="6.80"/></g>
<g stroke="#228B22"><path d="M1304.7 1529.7L1313.3 1544.3L1296.1 1544.3Z"/></g>
<g stroke="#228B22"><path d="M1297.3 1542.4L1305.9 1557.0L1288.7 1557.0Z"/></g>
<g stroke="#6495ED"><path d="M1320.0 1547.5L1334.4 1561.9M1320.0 1561.9L1334.4 1547.5"/></g>
<g stroke="#228B22"><circle cx="1356.9" cy="1548.1" r="6.80"/></g>
<g stroke="#D9A521"><circle cx="1409.0" cy="1547.7" r="6.80"/></g>
<g stroke="#228B22"><circle cx="1439.0" cy="1559.3" r="6.80"/></g>
<g stroke="#D9A521"><path d="M1252.7 1549.7L1261.3 1564.3L1244.1 1564.3Z"/></g>
<g stroke="#6495ED"><path d="M1252.7 1564.4L1261.3 1579.0L1244.1 1579.0Z"/></g>
<g stroke="#6495ED"><circle cx="1312.4" cy="1568.5" r="6.80"/></g>
<g stroke="#D9A521"><path d="M1327.2 1563.2L1335.8 1577.8L1318.6 1577.8Z"/></g>
<g stroke="#228B22"><path d="M1324.4 1574.3L1345.0 1574.3M1334.7 1564.0L1334.7 1584.6"/></g>
<g stroke="#228B22"><path d="M1334.7 1571.7L1343.3 1586.3L1326.1 1586.3Z"/></g>
<g stroke="#228B22"><circle cx="1334.7" cy="1582.4" r="6.80"/></g>
<g stroke="#D9A521"><path d="M1327.5 1578.1L1341.9 1592.5M1327.5 1592.5L1341.9 1578.1"/></g>
<g stroke="#6495ED"><path d="M1409.0 1569.9L1417.6 1584.5L1400.4 1584.5Z"/></g>
<g stroke="#228B22"><path d="M1267.7 1580.4L1282.1 1594.8M1267.7 1594.8L1282.1 1580.4"/></g>
<g stroke="#6495ED"><path d="M1278.9 1581.3L1293.3 1595.7M1278.9 1595.7L1293.3 1581.3"/></g>
<g stroke="#6495ED"><circle cx="1289.5" cy="1585.8" r="6.80"/></g>
<g stroke="#228B22"><path d="M1297.3 1577.0L1305.9 1591.6L1288.7 1591.6Z"/></g>
<g stroke="#228B22"><circle cx="1260.2" cy="1595.9" r="6.80"/></g>
<g stroke="#D9A521"><circle cx="1274.9" cy="1603.7" r="6.80"/></g>
<g stroke="#6495ED"><path d="M1264.6 1597.9L1285.2 1597.9M1274.9 1587.6L1274.9 1608.2"/></g>
<g stroke="#D9A521"><circle cx="1282.6" cy="1598.5" r="6.80"/></g>
<g stroke="#D9A521"><circle cx="1290.7" cy="1595.6" r="6.80"/></g>
<g stroke="#D9A521"><circle cx="1297.6" cy="1593.9" r="6.80"/></g>
<g stroke="#228B22"><circle cx="1298.8" cy="1592.2" r="6.80"/></g>
<g stroke="#228B22"><path d="M1349.7 1591.9L1364.1 1606.3M1349.7 1606.3L1364.1 1591.9"/></g>
<g stroke="#228B22"><circle cx="1364.4" cy="1598.5" r="6.80"/></g>
<g stroke="#228B22"><circle cx="1371.9" cy="1596.8" r="6.80"/></g>
<g stroke="#228B22"><circle cx="1319.5" cy="1608.3" r="6.80"/></g>
<g stroke="#D9A521"><circle cx="1334.7" cy="1608.9" r="6.80"/></g>
<g stroke="#6495ED"><circle cx="1341.4" cy="1611.8" r="6.80"/></g>
<g stroke="#228B22"><circle cx="1342.5" cy="1613.5" r="6.80"/></g>
<g stroke="#D9A521"><path d="M1356.9 1602.1L1365.5 1616.7L1348.3 1616.7Z"/></g>
<g stroke="#D9A521"><circle cx="1356.9" cy="1621.5" r="6.80"/></g>
<g stroke="#6495ED"><circle cx="1371.9" cy="1614.1" r="6.80"/></g>
<g stroke="#228B22"><circle cx="1282.6" cy="1619.8" r="6.80"/></g>
<g stroke="#228B22"><circle cx="1289.5" cy="1615.8" r="6.80"/></g>
<g stroke="#228B22"><circle cx="1304.7" cy="1623.3" r="6.80"/></g>
<g stroke="#6495ED"><circle cx="1260.2" cy="1627.3" r="6.80"/></g>
<g stroke="#228B22"><circle cx="1401.6" cy="1616.9" r="6.80"/></g>
<g stroke="#6495ED"><circle cx="1431.2" cy="1604.3" r="6.80"/></g>
<g stroke="#6495ED"><circle cx="1476.3" cy="1375.9" r="6.80"/></g>
<g stroke="#228B22"><circle cx="1528.3" cy="1382.2" r="6.80"/></g>
<g stroke="#D9A521"><circle cx="1550.6" cy="1385.5" r="6.80"/></g>
<g stroke="#6495ED"><circle cx="1603.0" cy="1392.0" r="6.80"/></g>
<g stroke="#D9A521"><circle cx="1476.3" cy="1419.3" r="6.80"/></g>
<g stroke="#6495ED"><circle cx="1543.5" cy="1424.5" r="6.80"/></g>
<g stroke="#228B22"><path d="M1610.5 1427.7L1619.7 1436.9L1610.5 1446.1L1601.3 1436.9Z"/></g>
<g stroke="#6495ED"><circle cx="1580.6" cy="1446.7" r="6.80"/></g>
<g stroke="#6495ED"><path d="M1498.5 1445.3L1507.1 1459.9L1489.9 1459.9Z"/></g>
<g stroke="#228B22"><circle cx="1535.8" cy="1455.8" r="6.80"/></g>
<g stroke="#D9A521"><circle cx="1491.4" cy="1474.4" r="6.80"/></g>
<g stroke="#D9A521"><circle cx="1528.3" cy="1472.5" r="6.80"/></g>
<g stroke="#228B22"><path d="M1550.9 1475.4L1565.3 1489.8M1550.9 1489.8L1565.3 1475.4"/></g>
<g stroke="#D9A521"><path d="M1488.5 1491.9L1509.1 1491.9M1498.8 1481.6L1498.8 1502.2"/></g>
<g stroke="#D9A521"><path d="M1506.3 1481.8L1520.7 1496.2M1506.3 1496.2L1520.7 1481.8"/></g>
<g stroke="#D9A521"><circle cx="1528.3" cy="1502.0" r="6.80"/></g>
<g stroke="#D9A521"><circle cx="1588.4" cy="1495.3" r="6.80"/></g>
<g stroke="#D9A521"><circle cx="1588.4" cy="1498.2" r="6.80"/></g>
<g stroke="#D9A521"><circle cx="1610.3" cy="1493.4" r="6.80"/></g>
<g stroke="#D9A521"><circle cx="1446.5" cy="1520.7" r="6.80"/></g>
<g stroke="#D9A521"><circle cx="1454.2" cy="1522.2" r="6.80"/></g>
<g stroke="#D9A521"><path d="M1625.2 1514.0L1639.6 1528.4M1625.2 1528.4L1639.6 1514.0"/></g>
<g stroke="#D9A521"><circle cx="1610.3" cy="1524.7" r="6.80"/></g>
<g stroke="#228B22"><circle cx="1610.3" cy="1529.3" r="6.80"/></g>
<g stroke="#D9A521"><circle cx="1550.6" cy="1529.9" r="6.80"/></g>
<g stroke="#6495ED"><circle cx="1535.8" cy="1534.5" r="6.80"/></g>
<g stroke="#6495ED"><path d="M1595.6 1530.1L1604.2 1544.7L1587.0 1544.7Z"/></g>
<g stroke="#228B22"><path d="M1595.6 1535.8L1604.2 1550.4L1587.0 1550.4Z"/></g>
<g stroke="#6495ED"><circle cx="1632.4" cy="1537.4" r="6.80"/></g>
<g stroke="#6495ED"><circle cx="1476.3" cy="1544.3" r="6.80"/></g>
<g stroke="#D9A521"><circle cx="1491.4" cy="1545.2" r="6.80"/></g>
<g stroke="#D9A521"><circle cx="1498.8" cy="1563.3" r="6.80"/></g>
<g stroke="#228B22"><path d="M1528.3 1555.1L1536.9 1569.7L1519.7 1569.7Z"/></g>
<g stroke="#D9A521"><circle cx="1550.6" cy="1555.8" r="6.80"/></g>
<g stroke="#D9A521"><circle cx="1558.1" cy="1565.8" r="6.80"/></g>
<g stroke="#228B22"><circle cx="1580.6" cy="1568.0" r="6.80"/></g>
<g stroke="#D9A521"><circle cx="1446.5" cy="1570.8" r="6.80"/></g>
<g stroke="#D9A521"><circle cx="1602.8" cy="1570.2" r="6.80"/></g>
<g stroke="#D9A521"><circle cx="1453.8" cy="1583.5" r="6.80"/></g>
<g stroke="#6495ED"><path d="M1453.8 1583.4L1462.4 1598.0L1445.2 1598.0Z"/></g>
<g stroke="#228B22"><path d="M1476.3 1580.4L1484.9 1595.0L1467.7 1595.0Z"/></g>
<g stroke="#228B22"><circle cx="1543.5" cy="1581.2" r="6.80"/></g>
<g stroke="#D9A521"><circle cx="1521.0" cy="1584.7" r="6.80"/></g>
<g stroke="#D9A521"><circle cx="1528.3" cy="1593.9" r="6.80"/></g>
<g stroke="#D9A521"><circle cx="1602.8" cy="1583.0" r="6.80"/></g>
<g stroke="#D9A521"><circle cx="1624.9" cy="1578.3" r="6.80"/></g>
<g stroke="#D9A521"><circle cx="1610.5" cy="1588.0" r="6.80"/></g>
<g stroke="#D9A521"><circle cx="1618.5" cy="1589.9" r="6.80"/></g>
<g stroke="#228B22"><circle cx="1602.8" cy="1593.3" r="6.80"/></g>
<g stroke="#D9A521"><circle cx="1602.8" cy="1604.8" r="6.80"/></g>
<g stroke="#228B22"><circle cx="1602.8" cy="1615.8" r="6.80"/></g>
<g stroke="#6495ED"><circle cx="1617.8" cy="1620.4" r="6.80"/></g>
<g stroke="#228B22"><circle cx="1625.2" cy="1619.2" r="6.80"/></g>
<g stroke="#6495ED"><circle cx="1632.4" cy="1585.3" r="6.80"/></g>
<g stroke="#228B22"><circle cx="1632.4" cy="1607.5" r="6.80"/></g>
<g stroke="#6495ED"><circle cx="1461.1" cy="1604.5" r="6.80"/></g>
<g stroke="#6495ED"><circle cx="1446.5" cy="1615.2" r="6.80"/></g>
<g stroke="#228B22"><circle cx="1476.3" cy="1615.8" r="6.80"/></g>
<g stroke="#228B22"><circle cx="1484.1" cy="1614.1" r="6.80"/></g>
<g stroke="#6495ED"><circle cx="1498.8" cy="1607.1" r="6.80"/></g>
<g stroke="#D9A521"><circle cx="1513.5" cy="1610.0" r="6.80"/></g>
<g stroke="#D9A521"><circle cx="1528.3" cy="1612.9" r="6.80"/></g>
<g stroke="#D9A521"><circle cx="1558.1" cy="1615.2" r="6.80"/></g>
<g stroke="#D9A521"><circle cx="1565.7" cy="1610.6" r="6.80"/></g>
<g stroke="#228B22"><circle cx="1684.8" cy="1380.1" r="6.80"/></g>
<g stroke="#228B22"><circle cx="1700.1" cy="1373.5" r="6.80"/></g>
<g stroke="#228B22"><path d="M1707.6 1372.6L1722.0 1387.0M1707.6 1387.0L1722.0 1372.6"/></g>
<g stroke="#D9A521"><path d="M1736.9 1384.1L1745.5 1398.7L1728.3 1398.7Z"/></g>
<g stroke="#D9A521"><circle cx="1692.2" cy="1407.4" r="6.80"/></g>
<g stroke="#D9A521"><circle cx="1662.0" cy="1419.3" r="6.80"/></g>
<g stroke="#D9A521"><circle cx="1677.6" cy="1419.3" r="6.80"/></g>
<g stroke="#D9A521"><circle cx="1684.8" cy="1442.0" r="6.80"/></g>
<g stroke="#D9A521"><circle cx="1714.8" cy="1459.0" r="6.80"/></g>
<g stroke="#D9A521"><path d="M1640.7 1503.7L1655.1 1518.1M1640.7 1518.1L1655.1 1503.7"/></g>
<g stroke="#D9A521"><circle cx="1700.1" cy="1509.7" r="6.80"/></g>
<g stroke="#D9A521"><circle cx="1684.8" cy="1518.0" r="6.80"/></g>
<g stroke="#6495ED"><circle cx="1714.8" cy="1539.1" r="6.80"/></g>
<g stroke="#D9A521"><circle cx="1692.2" cy="1537.4" r="6.80"/></g>
<g stroke="#228B22"><circle cx="1670.1" cy="1538.8" r="6.80"/></g>
<g stroke="#228B22"><circle cx="1677.6" cy="1545.4" r="6.80"/></g>
<g stroke="#D9A521"><circle cx="1677.6" cy="1547.7" r="6.80"/></g>
<g stroke="#228B22"><circle cx="1684.8" cy="1551.8" r="6.80"/></g>
<g stroke="#D9A521"><path d="M1647.9 1541.1L1662.3 1555.5M1647.9 1555.5L1662.3 1541.1"/></g>
<g stroke="#D9A521"><circle cx="1662.0" cy="1557.5" r="6.80"/></g>
<g stroke="#D9A521"><circle cx="1707.0" cy="1566.5" r="6.80"/></g>
<g stroke="#D9A521"><circle cx="1714.8" cy="1572.0" r="6.80"/></g>
<g stroke="#D9A521"><circle cx="1632.4" cy="1591.0" r="6.80"/></g>
<g stroke="#D9A521"><circle cx="1647.9" cy="1583.0" r="6.80"/></g>
<g stroke="#6495ED"><circle cx="1632.4" cy="1598.5" r="6.80"/></g>
<g stroke="#D9A521"><circle cx="1684.8" cy="1578.3" r="6.80"/></g>
<g stroke="#D9A521"><circle cx="1700.1" cy="1587.6" r="6.80"/></g>
<g stroke="#D9A521"><circle cx="1677.6" cy="1592.2" r="6.80"/></g>
<g stroke="#D9A521"><circle cx="1677.6" cy="1602.5" r="6.80"/></g>
<g stroke="#D9A521"><circle cx="1655.1" cy="1602.5" r="6.80"/></g>
<g stroke="#D9A521"><circle cx="1692.2" cy="1612.3" r="6.80"/></g>
<g stroke="#D9A521"><circle cx="1736.9" cy="1584.1" r="6.80"/></g>
<g stroke="#6495ED"><circle cx="1736.9" cy="1588.1" r="6.80"/></g>
<g stroke="#D9A521"><circle cx="1736.9" cy="1610.6" r="6.80"/></g>
<g stroke="#D9A521"><circle cx="1736.9" cy="1612.3" r="6.80"/></g>
</g>
<rect x="1057.1" y="1008.2" width="712.3" height="647.4" fill="none" stroke="#444" stroke-width="1.5"/>
<line x1="1049.2" y1="1645.2" x2="1057.1" y2="1645.2" stroke="#333" stroke-width="2.3"/>
<line x1="1049.2" y1="1483.6" x2="1057.1" y2="1483.6" stroke="#333" stroke-width="2.3"/>
<line x1="1049.2" y1="1322.0" x2="1057.1" y2="1322.0" stroke="#333" stroke-width="2.3"/>
<line x1="1049.2" y1="1160.4" x2="1057.1" y2="1160.4" stroke="#333" stroke-width="2.3"/>
<line x1="1200.3" y1="1655.6" x2="1200.3" y2="1663.6" stroke="#333" stroke-width="2.3"/>
<line x1="1386.7" y1="1655.6" x2="1386.7" y2="1663.6" stroke="#333" stroke-width="2.3"/>
<line x1="1573.0" y1="1655.6" x2="1573.0" y2="1663.6" stroke="#333" stroke-width="2.3"/>
<line x1="1759.3" y1="1655.6" x2="1759.3" y2="1663.6" stroke="#333" stroke-width="2.3"/>
<g font-family="Liberation Sans, Arial, Helvetica, sans-serif" font-size="23.6" fill="#4d4d4d" text-anchor="end">
<text x="1041.6" y="1654.3" textLength="46.2" lengthAdjust="spacingAndGlyphs">0.00</text>
<text x="1041.6" y="1492.7" textLength="46.2" lengthAdjust="spacingAndGlyphs">0.25</text>
<text x="1041.6" y="1331.1" textLength="46.2" lengthAdjust="spacingAndGlyphs">0.50</text>
<text x="1041.6" y="1169.5" textLength="46.2" lengthAdjust="spacingAndGlyphs">0.75</text>
</g>
<g font-family="Liberation Sans, Arial, Helvetica, sans-serif" font-size="23.6" fill="#4d4d4d" text-anchor="middle">
<text x="1200.3" y="1689.4" textLength="46.2" lengthAdjust="spacingAndGlyphs">0.25</text>
<text x="1386.7" y="1689.4" textLength="46.2" lengthAdjust="spacingAndGlyphs">0.50</text>
<text x="1573.0" y="1689.4" textLength="46.2" lengthAdjust="spacingAndGlyphs">0.75</text>
<text x="1759.3" y="1689.4" textLength="46.2" lengthAdjust="spacingAndGlyphs">1.00</text>
</g>
<text font-family="Liberation Sans, Arial, Helvetica, sans-serif" font-size="29.95" fill="#000" text-anchor="middle" transform="translate(948,1332.6) rotate(-90)">Proportion of mutations subclonal</text>
<text font-family="Liberation Sans, Arial, Helvetica, sans-serif" font-size="33.7" fill="#000" text-anchor="middle" x="1410" y="1784.4">Estimated tumor purity (ABSOLUTE)</text>
</g>
<g id="legends">
<text font-family="Liberation Sans, Arial, Helvetica, sans-serif" font-size="40.5" fill="#000" x="620" y="1859">Response</text>
<rect x="648.6" y="1899.3" width="42.2" height="42" fill="#228B22" stroke="#4a4a4a" stroke-width="1"/>
<text font-family="Liberation Sans, Arial, Helvetica, sans-serif" font-size="35.93" fill="#000" x="714.5" y="1933.9">CR/PR (N=70)</text>
<rect x="648.6" y="1964.9" width="42.2" height="42" fill="#6495ED" stroke="#4a4a4a" stroke-width="1"/>
<text font-family="Liberation Sans, Arial, Helvetica, sans-serif" font-size="35.93" fill="#000" x="714.5" y="1998.6">SD (N=56)</text>
<rect x="648.6" y="2027.6" width="42.2" height="40.6" fill="#FDB714" stroke="#4a4a4a" stroke-width="1"/>
<text font-family="Liberation Sans, Arial, Helvetica, sans-serif" font-size="35.93" fill="#000" x="714.5" y="2062.5">PD (N=123)</text>
<text font-family="Liberation Sans, Arial, Helvetica, sans-serif" font-size="40.3" fill="#000" x="1051.4" y="1859">Cancer type</text>
<g fill="none" stroke="#222" stroke-width="2">
<path d="M1076.9 1885.6L1084.3 1893.0L1076.9 1900.4L1069.5 1893.0Z"/>
<path d="M1071.1 1937.6L1082.7 1949.2M1071.1 1949.2L1082.7 1937.6"/>
<path d="M1068.7 1993.4L1085.1 1993.4M1076.9 1985.2L1076.9 2001.6"/>
<path d="M1076.9 2036.1L1083.6 2047.5L1070.2 2047.5Z"/>
<circle cx="1076.9" cy="2093.6" r="5.17"/>
<path d="M1076.9 2135.1L1084.3 2142.5L1076.9 2149.9L1069.5 2142.5Z"/>
</g>
<g font-family="Liberation Sans, Arial, Helvetica, sans-serif" font-size="25.8" fill="#111">
<text x="1107.6" y="1902.9">Anal</text>
<text x="1107.6" y="1953.8">Bladder</text>
<text x="1107.6" y="2003.6">HNSCC</text>
<text x="1107.6" y="2054.0">Lung</text>
<text x="1107.6" y="2103.5">Melanoma</text>
<text x="1107.6" y="2153.3">Sarcoma</text>
</g>
</g>
<g font-family="Liberation Sans, Arial, Helvetica, sans-serif" font-size="45" fill="#000"><text x="35" y="30.2">a</text><text x="54" y="1009" font-size="46.5">b</text><text x="856.5" y="1009.5" font-size="46.5">c</text></g>
</svg></body></html>
